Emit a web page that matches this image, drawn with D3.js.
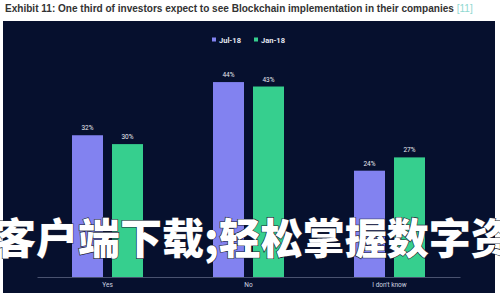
<!DOCTYPE html>
<html><head><meta charset="utf-8">
<script src="https://cdn.jsdelivr.net/npm/d3@7"></script>
<style>
html,body{margin:0;padding:0;background:#fff;}
svg{display:block;}
</style></head>
<body>
<svg id="c" width="500" height="300"></svg>
<script>
const categories = ["Yes", "No", "I don't know"];
const seriesNames = ["Jul-18", "Jan-18"];
const jul18 = [32, 44, 24];
const jan18 = [30, 43, 27];
const titleText = "Exhibit 11: One third of investors expect to see Blockchain implementation in their companies";
const refText = "[11]";
const overlayText = "客户端下载;轻松掌握数字资";

const colors = {"Jul-18": "#8282f0", "Jan-18": "#36cf8e"};
const svg = d3.select("#c");

// title
const t = svg.append("text").attr("x", 5).attr("y", 12)
  .attr("font-family", "Liberation Sans, Arial, sans-serif")
  .attr("font-weight", "bold").attr("font-size", 10.05).attr("fill", "#333");
t.append("tspan").text(titleText);
t.append("tspan").attr("fill", "#8fd8d0").attr("font-weight", "normal").text(" " + refText);

// panel
svg.append("rect").attr("x", 3).attr("y", 21).attr("width", 492).attr("height", 272).attr("fill", "#06102e");

const x = d3.scaleBand().domain(categories).range([37, 460]).paddingInner(0).paddingOuter(0);
const xi = d3.scaleBand().domain(seriesNames).range([35, 106]).paddingInner(0.225).paddingOuter(0);
const y = d3.scaleLinear().domain([0, 50]).range([277, 55.5]);

const rows = categories.map((c, i) => ({cat: c, vals: [{s: "Jul-18", v: jul18[i]}, {s: "Jan-18", v: jan18[i]}]}));

const g = svg.append("g");
const groups = g.selectAll("g.grp").data(rows).join("g").attr("class", "grp")
  .attr("transform", d => `translate(${x(d.cat)},0)`);
groups.selectAll("rect").data(d => d.vals).join("rect")
  .attr("x", d => xi(d.s)).attr("width", xi.bandwidth())
  .attr("y", d => y(d.v)).attr("height", d => y(0) - y(d.v))
  .attr("fill", d => colors[d.s]);
groups.selectAll("text.val").data(d => d.vals).join("text").attr("class", "val")
  .attr("x", d => xi(d.s) + xi.bandwidth() / 2).attr("y", d => y(d.v) - 5)
  .attr("text-anchor", "middle").attr("font-family", "Roboto, sans-serif")
  .attr("font-size", 6.5).attr("fill", "#e8e8f0").text(d => d.v + "%");

// x axis
const ax = svg.append("g").attr("transform", "translate(0,277)")
  .call(d3.axisBottom(x).tickSize(0).tickPadding(5));
ax.select(".domain").attr("stroke", "#5a6380").attr("stroke-width", 0.8);
ax.selectAll("text").attr("font-family", "Roboto, sans-serif").attr("font-size", 6.5).attr("fill", "#d0d4e0");

// legend
const lg = svg.append("g").attr("font-family", "Roboto, sans-serif").attr("font-size", 7.5).attr("font-weight", "bold");
const legX = [212, 254];
seriesNames.forEach((s, i) => {
  lg.append("rect").attr("x", legX[i]).attr("y", 37.5).attr("width", 4).attr("height", 4).attr("fill", colors[s]);
  lg.append("text").attr("x", legX[i] + 7).attr("y", 42.5).attr("fill", "#e6e8f2").text(s);
});

// overlay text
svg.append("text").attr("x", -6).attr("y", 254)
  .attr("font-family", "Noto Sans CJK SC, sans-serif").attr("font-weight", 900)
  .attr("font-size", 42).attr("fill", "#ffffff")
  .attr("stroke", "#1a1f33").attr("stroke-width", 1.2).attr("paint-order", "stroke")
  .text(overlayText);
</script>
</body></html>
